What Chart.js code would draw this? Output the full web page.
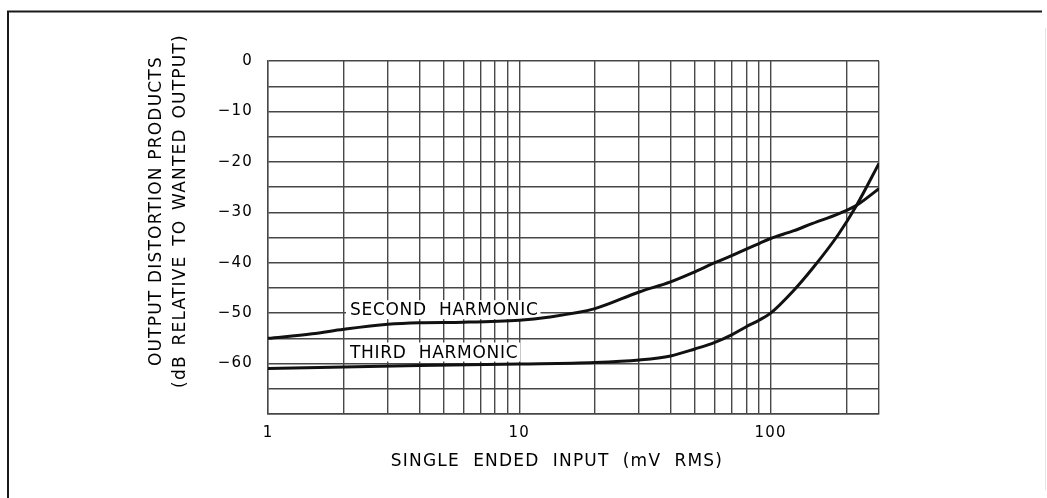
<!DOCTYPE html>
<html>
<head>
<meta charset="utf-8">
<script src="https://cdn.jsdelivr.net/npm/chart.js@4.4.0/dist/chart.umd.min.js"></script>
<style>
    html, body { margin: 0; padding: 0; background: #fff; }
</style>
</head>
<body>
<canvas id="chart" width="1047" height="498"></canvas>
<script>
// input level (mV RMS) and distortion level (dB) along each curve
const secondInput = [1, 1.5, 2, 3, 4, 6, 10, 13, 20, 30, 40, 50, 60, 70, 80, 90, 100, 123, 147, 186, 220, 270];
const secondDb = [-55, -54.1, -53.2, -52.2, -51.9, -51.8, -51.4, -50.8, -49.1, -45.8, -43.8, -41.8, -40, -38.6, -37.3, -36.2, -35.2, -33.7, -32.2, -30.3, -28.6, -25.3];
const thirdInput = [1, 2, 4, 10, 20, 30, 40, 50, 60, 70, 80, 90, 100, 123, 147, 186, 220, 270];
const thirdDb = [-61, -60.7, -60.4, -60.1, -59.8, -59.3, -58.5, -57.1, -55.8, -54.3, -52.7, -51.4, -50, -45.6, -41.1, -34.4, -28.6, -20.3];

// axis grid + labels
const xGrid = [1, 2, 3, 4, 5, 6, 7, 8, 9, 10, 20, 30, 40, 50, 60, 70, 80, 90, 100, 200, 270];
const xLabels = [1, 10, 100];
const yLabels = [0, -10, -20, -30, -40, -50, -60];
const curveNames = ['SECOND  HARMONIC', 'THIRD  HARMONIC'];

const SPACING = '1.2px';
const FONT = 'DejaVu Sans';
const INK = '#000';
const GRID = '#474747';

function toPoints(xs, ys) {
    return xs.map((v, i) => ({ x: v, y: ys[i] }));
}

// white sheet with the ruled frame, and wider letter spacing for all text
const paper = {
    id: 'paper',
    beforeUpdate(chart) {
        chart.ctx.letterSpacing = SPACING;
    },
    beforeDraw(chart) {
        const ctx = chart.ctx;
        ctx.save();
        ctx.fillStyle = '#fff';
        ctx.fillRect(0, 0, chart.width, chart.height);
        ctx.strokeStyle = '#1a1a1a';
        ctx.lineWidth = 2;
        ctx.beginPath();
        ctx.moveTo(8, chart.height);
        ctx.lineTo(8, 11.5);
        ctx.lineTo(1042, 11.5);
        ctx.stroke();
        ctx.strokeStyle = '#e4e4e4';
        ctx.lineWidth = 1;
        ctx.beginPath();
        ctx.moveTo(1045.5, 28);
        ctx.lineTo(1045.5, 490);
        ctx.stroke();
        ctx.restore();
        ctx.letterSpacing = SPACING;
    }
};

// curve names written on the grid, on a white patch
const curveNotes = {
    id: 'curveNotes',
    beforeDatasetsDraw(chart) {
        const { ctx, scales } = chart;
        const anchors = [[2.12, -50.4], [2.12, -58.8]];
        ctx.save();
        ctx.font = '17px "' + FONT + '"';
        ctx.letterSpacing = '0.7px';
        ctx.textBaseline = 'alphabetic';
        ctx.textAlign = 'left';
        curveNames.forEach((name, i) => {
            const px = scales.x.getPixelForValue(anchors[i][0]);
            const py = scales.y.getPixelForValue(anchors[i][1]);
            const w = ctx.measureText(name).width;
            ctx.fillStyle = '#fff';
            ctx.fillRect(px - 4, py - 15, w + 6, 19);
            ctx.fillStyle = INK;
            ctx.fillText(name, px, py);
        });
        ctx.restore();
    }
};

const curveStyle = {
    borderColor: '#111',
    borderWidth: 3,
    pointRadius: 0,
    fill: false,
    cubicInterpolationMode: 'monotone'
};

new Chart(document.getElementById('chart'), {
    type: 'line',
    data: {
        datasets: [
            { label: 'Second harmonic', data: toPoints(secondInput, secondDb), ...curveStyle },
            { label: 'Third harmonic', data: toPoints(thirdInput, thirdDb), ...curveStyle }
        ]
    },
    options: {
        responsive: false,
        animation: false,
        layout: { padding: { left: 140, top: 61, right: 168, bottom: 0 } },
        plugins: {
            legend: { display: false },
            tooltip: { enabled: false }
        },
        scales: {
            x: {
                type: 'logarithmic',
                min: 1,
                max: 270,
                afterBuildTicks: (s) => { s.ticks = xGrid.map(v => ({ value: v })); },
                afterFit: (s) => { s.height = 84; },
                grid: { color: GRID, lineWidth: 1.4, drawTicks: false },
                border: { color: GRID, width: 1.4 },
                ticks: {
                    autoSkip: false,
                    maxRotation: 0,
                    padding: 10,
                    color: INK,
                    font: { family: FONT, size: 15 },
                    callback: (v) => xLabels.includes(v) ? String(v) : ''
                },
                title: {
                    display: true,
                    // trailing blanks nudge the centred title a little left
                    text: 'SINGLE  ENDED  INPUT  (mV  RMS)     ',
                    color: INK,
                    font: { family: FONT, size: 17 },
                    padding: { top: 0, bottom: 26 }
                }
            },
            y: {
                min: -70,
                max: 0,
                afterFit: (s) => { s.width = 128; },
                grid: { color: GRID, lineWidth: 1.4, drawTicks: false },
                border: { color: GRID, width: 1.4 },
                ticks: {
                    stepSize: 5,
                    padding: 15,
                    color: INK,
                    font: { family: FONT, size: 15 },
                    callback: (v) => yLabels.includes(v) ? (v === 0 ? '0' : '\u2212' + (-v)) : ''
                },
                title: {
                    display: true,
                    // leading blanks lift the rotated title above centre
                    text: ['        OUTPUT DISTORTION PRODUCTS', '        (dB\u2002RELATIVE\u2002TO\u2002WANTED\u2002OUTPUT)'],
                    color: INK,
                    font: { family: FONT, size: 17, lineHeight: 1.4 },
                    padding: { top: 5 }
                }
            }
        }
    },
    plugins: [paper, curveNotes]
});
</script>
</body>
</html>
